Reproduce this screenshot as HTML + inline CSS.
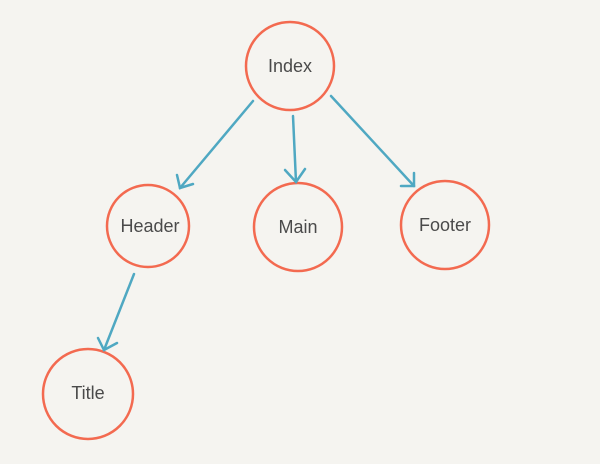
<!DOCTYPE html>
<html><head><style>
html,body{margin:0;padding:0;background:#f5f4f0;}
svg{display:block}
text{font-family:"Liberation Sans",sans-serif;font-size:18px;fill:#4a4a4a;text-anchor:middle;dominant-baseline:central}
</style></head><body>
<svg width="600" height="464" viewBox="0 0 600 464">
<rect width="600" height="464" fill="#f5f4f0"/>
<g fill="none" stroke="#f36a50" stroke-width="2.5">
<circle cx="290" cy="66" r="44"/>
<circle cx="148" cy="226" r="41"/>
<circle cx="298" cy="227" r="44"/>
<circle cx="445" cy="225" r="44"/>
<circle cx="88" cy="394" r="45"/>
</g>
<g fill="none" stroke="#4fa8c2" stroke-width="2.5" stroke-linecap="round">
<line x1="253" y1="101" x2="180" y2="188"/>
<polyline points="177,175 180,188 193,184"/>
<line x1="293" y1="116" x2="296" y2="182"/>
<polyline points="285,170 296,182 305,169"/>
<line x1="331" y1="96" x2="414" y2="186"/>
<polyline points="414,173 414,186 401,186"/>
<line x1="134" y1="274" x2="104" y2="350"/>
<polyline points="98,338 104,350 117,343"/>
</g>
<text x="290" y="66">Index</text>
<text x="150" y="226">Header</text>
<text x="298" y="227">Main</text>
<text x="445" y="225">Footer</text>
<text x="88" y="393">Title</text>
</svg>
</body></html>
